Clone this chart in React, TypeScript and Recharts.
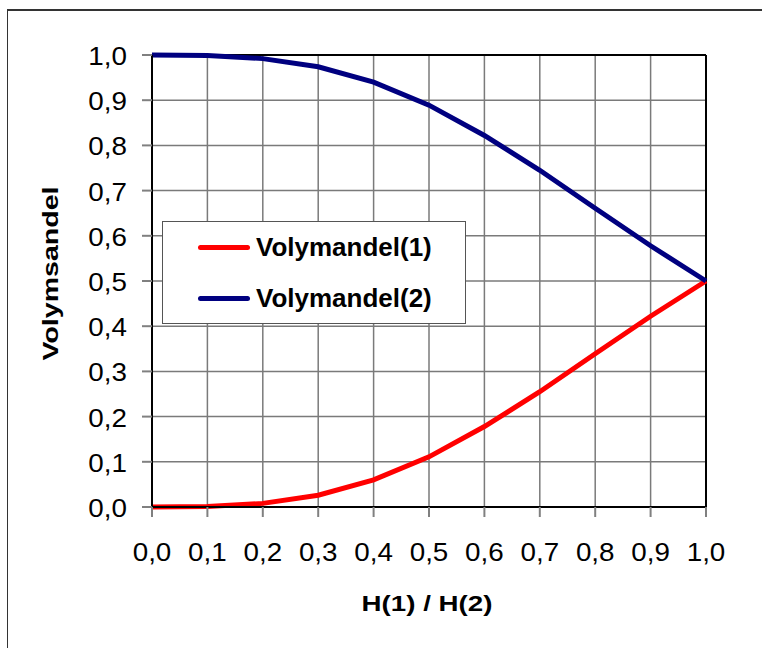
import React from "react"
import { CartesianGrid, Line, LineChart, ReferenceLine, XAxis, YAxis } from "recharts"

const ratios = [0, 0.1, 0.2, 0.3, 0.4, 0.5, 0.6, 0.7, 0.8, 0.9, 1.0]
const volym1 = [0, 0.001, 0.008, 0.026, 0.06, 0.111, 0.178, 0.255, 0.339, 0.422, 0.5]
const volym2 = [1, 0.999, 0.992, 0.974, 0.94, 0.889, 0.822, 0.745, 0.661, 0.578, 0.5]
const tickValues = [0, 0.1, 0.2, 0.3, 0.4, 0.5, 0.6, 0.7, 0.8, 0.9, 1.0]
const seriesNames = ["Volymandel(1)", "Volymandel(2)"]
const seriesColors = ["#ff0000", "#000080"]

const data = ratios.map((r, i) => ({ r, v1: volym1[i], v2: volym2[i] }))

const FONT = "'Liberation Sans', Arial, sans-serif"
const fmt = (v: number) => v.toFixed(1).replace(".", ",")

const XTick = ({ x, y, payload }: any) => (
  <text transform={`translate(${x}, ${y + 20}) scale(1.07, 1)`} textAnchor="middle" fontFamily={FONT} fontSize={26} fill="#000">
    {fmt(payload.value)}
  </text>
)

const YTick = ({ x, y, payload }: any) => (
  <text transform={`translate(${x}, ${y + 10}) scale(1.07, 1)`} textAnchor="end" fontFamily={FONT} fontSize={26} fill="#000">
    {fmt(payload.value)}
  </text>
)

// Excel-style stretched bold titles
const XTitle = () => (
  <text transform="translate(427, 611) scale(1.32, 1.05)" textAnchor="middle" fontFamily={FONT} fontSize={21} fontWeight="bold" fill="#000">
    H(1) / H(2)
  </text>
)

const YTitle = () => (
  <text transform="translate(58, 273.5) rotate(-90) scale(1.36, 1.05)" textAnchor="middle" fontFamily={FONT} fontSize={21} fontWeight="bold" fill="#000">
    Volymsandel
  </text>
)

function LegendBox() {
  return (
    <div
      style={{
        position: "absolute",
        left: 162,
        top: 221,
        width: 304,
        height: 103,
        boxSizing: "border-box",
        border: "1.5px solid #555",
        background: "#fff",
        fontFamily: FONT,
      }}
    >
      {seriesNames.map((name, i) => (
        <div key={name} style={{ position: "absolute", left: 35, top: 10 + i * 51, height: 30, display: "flex", alignItems: "center" }}>
          <div style={{ width: 52, height: 5, borderRadius: 3, background: seriesColors[i] }} />
          <span style={{ marginLeft: 6, fontSize: 26, fontWeight: "bold", color: "#000", whiteSpace: "nowrap" }}>{name}</span>
        </div>
      ))}
    </div>
  )
}

export default function App() {
  return (
    <div style={{ position: "absolute", left: 0, top: 0, width: 762, height: 648, overflow: "hidden", background: "#fff" }}>
      <div
        style={{
          position: "absolute",
          left: 7,
          top: 9,
          width: 800,
          height: 700,
          borderLeft: "1.5px solid #333",
          borderTop: "2px solid #333",
        }}
      />
      <div style={{ position: "absolute", left: 0, top: 0 }}>
        <LineChart width={762} height={648} data={data} margin={{ top: 55, right: 56, left: 92, bottom: 81 }}>
          <CartesianGrid stroke="#7a7a7a" strokeWidth={1.5} />
          <XAxis
            dataKey="r"
            type="number"
            domain={[0, 1]}
            ticks={tickValues}
            height={60}
            stroke="#000"
            strokeWidth={2}
            tickSize={10}
            tickMargin={24}
            tickLine={{ stroke: "#808080", strokeWidth: 2 }}
            tick={<XTick />}
            interval={0}
            label={{ content: () => <XTitle /> }}
          />
          <YAxis
            type="number"
            domain={[0, 1]}
            ticks={tickValues}
            width={60}
            stroke="#000"
            strokeWidth={2}
            tickSize={10}
            tickMargin={15}
            tickLine={{ stroke: "#808080", strokeWidth: 2 }}
            tick={<YTick />}
            interval={0}
            label={{ content: () => <YTitle /> }}
          />
          <ReferenceLine y={1} stroke="#000" strokeWidth={2} />
          <ReferenceLine x={1} stroke="#000" strokeWidth={2} />
          <Line type="linear" dataKey="v1" name={seriesNames[0]} stroke={seriesColors[0]} strokeWidth={5} dot={false} isAnimationActive={false} />
          <Line type="linear" dataKey="v2" name={seriesNames[1]} stroke={seriesColors[1]} strokeWidth={5} dot={false} isAnimationActive={false} />
        </LineChart>
      </div>
      <LegendBox />
    </div>
  )
}
